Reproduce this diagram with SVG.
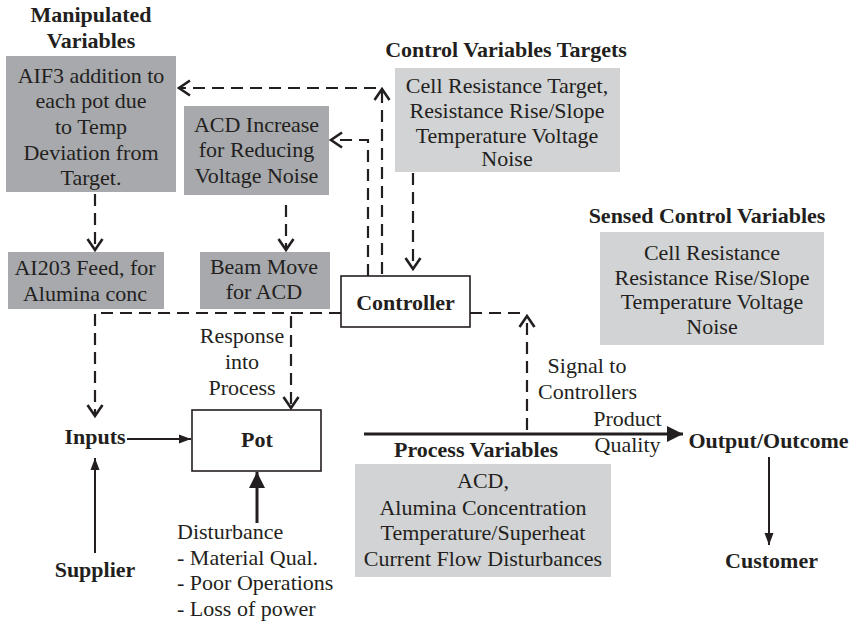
<svg xmlns="http://www.w3.org/2000/svg" width="855" height="624" viewBox="0 0 855 624">
<style>
text{font-family:"Liberation Serif","Times New Roman",serif;font-size:22px;fill:#231f20}
.b{font-weight:bold}
.c{text-anchor:middle}
.dark{fill:#a7a9ac}
.light{fill:#d1d3d4}
.box{fill:#fff;stroke:#231f20;stroke-width:1.6}
.d{fill:none;stroke:#231f20;stroke-width:2.2;stroke-dasharray:12 7}
.s{fill:none;stroke:#231f20;stroke-width:2}
.t{fill:none;stroke:#231f20;stroke-width:3}
</style>
<defs>
<marker id="chev" markerUnits="userSpaceOnUse" markerWidth="30" markerHeight="30" refX="0" refY="0" viewBox="-15 -15 30 30" orient="auto" overflow="visible">
<path d="M-11,-7.5 L0,0 L-11,7.5" fill="none" stroke="#231f20" stroke-width="2.6"/>
</marker>
<marker id="tri" markerUnits="userSpaceOnUse" markerWidth="30" markerHeight="30" refX="0" refY="0" viewBox="-15 -15 30 30" orient="auto" overflow="visible">
<path d="M-12,-4.5 L0,0 L-12,4.5 Z" fill="#231f20"/>
</marker>
<marker id="bigtri" markerUnits="userSpaceOnUse" markerWidth="40" markerHeight="40" refX="0" refY="0" viewBox="-20 -20 40 40" orient="auto" overflow="visible">
<path d="M-16,-8 L0,0 L-16,8 Z" fill="#231f20"/>
</marker>
</defs>

<g id="manipulated-title">
<text class="b c" x="91" y="22">Manipulated</text>
<text class="b c" x="91" y="48">Variables</text>
</g>
<g id="aif3">
<rect class="dark" x="6" y="56" width="170" height="136"/>
<text class="c" x="91" y="83">AIF3 addition to</text>
<text class="c" x="91" y="108">each pot due</text>
<text class="c" x="91" y="134">to Temp</text>
<text class="c" x="91" y="160">Deviation from</text>
<text class="c" x="91" y="185">Target.</text>
</g>
<g id="acd-increase">
<rect class="dark" x="184" y="106" width="145" height="89"/>
<text class="c" x="256.5" y="132">ACD Increase</text>
<text class="c" x="256.5" y="157">for Reducing</text>
<text class="c" x="256.5" y="183">Voltage Noise</text>
</g>
<g id="ai203">
<rect class="dark" x="8" y="252" width="156" height="57"/>
<text class="c" x="85" y="275">AI203 Feed, for</text>
<text class="c" x="85" y="301">Alumina conc</text>
</g>
<g id="beam-move">
<rect class="dark" x="200" y="252" width="130" height="57"/>
<text class="c" x="264" y="274">Beam Move</text>
<text class="c" x="264" y="299">for ACD</text>
</g>
<g id="control-targets">
<text class="b c" x="506" y="57">Control Variables Targets</text>
<rect class="light" x="395" y="68" width="225" height="104"/>
<text class="c" x="507" y="93">Cell Resistance Target,</text>
<text class="c" x="507" y="118">Resistance Rise/Slope</text>
<text class="c" x="507" y="143">Temperature Voltage</text>
<text class="c" x="507" y="166">Noise</text>
</g>
<g id="sensed">
<text class="b c" x="707" y="223">Sensed Control Variables</text>
<rect class="light" x="600" y="232" width="224" height="113"/>
<text class="c" x="712" y="260">Cell Resistance</text>
<text class="c" x="712" y="285">Resistance Rise/Slope</text>
<text class="c" x="712" y="309">Temperature Voltage</text>
<text class="c" x="712" y="334">Noise</text>
</g>
<g id="controller">
<rect class="box" x="341" y="276" width="129" height="51"/>
<text class="b c" x="405.5" y="310">Controller</text>
</g>
<g id="pot">
<rect class="box" x="192" y="410" width="129" height="61"/>
<text class="b c" x="257" y="447">Pot</text>
</g>
<g id="inputs"><text class="b c" x="95" y="444">Inputs</text></g>
<g id="supplier"><text class="b c" x="95" y="577">Supplier</text></g>
<g id="disturbance">
<text x="177" y="539">Disturbance</text>
<text x="177" y="565">- Material Qual.</text>
<text x="177" y="590">- Poor Operations</text>
<text x="177" y="616">- Loss of power</text>
</g>
<g id="process-variables">
<text class="b c" x="476" y="457">Process Variables</text>
<rect class="light" x="355" y="464" width="256" height="113"/>
<text class="c" x="483" y="488">ACD,</text>
<text class="c" x="483" y="515">Alumina Concentration</text>
<text class="c" x="483" y="540">Temperature/Superheat</text>
<text class="c" x="483" y="566">Current Flow Disturbances</text>
</g>
<g id="output"><text class="b c" x="768.5" y="448">Output/Outcome</text></g>
<g id="customer"><text class="b c" x="771.5" y="568">Customer</text></g>

<g id="connectors">
<path class="d" d="M95,194 V250" marker-end="url(#chev)"/>
<path class="d" d="M286,205 V250" marker-end="url(#chev)"/>
<path class="d" d="M382,274 V89" marker-end="url(#chev)"/>
<path class="d" d="M376,88 H179" marker-end="url(#chev)"/>
<path class="d" d="M368,276 V140 H331" marker-end="url(#chev)"/>
<path class="d" d="M413,173 V269" marker-end="url(#chev)"/>
<path class="d" d="M341,313 H95 V416" marker-end="url(#chev)"/>
<path class="d" d="M291,316 V408" marker-end="url(#chev)"/>
<path class="d" d="M470,313 H527"/>
<path class="d" d="M527,430 V316" marker-end="url(#chev)"/>
<path class="s" d="M127,439 H191" marker-end="url(#tri)"/>
<path class="s" d="M95,553 V458" marker-end="url(#tri)"/>
<path class="t" d="M257,523 V472" marker-end="url(#bigtri)"/>
<path class="t" d="M364,434 H683" marker-end="url(#bigtri)"/>
<path class="s" d="M769,457 V545" marker-end="url(#tri)"/>
<g id="labels">
<text class="c" x="242" y="343">Response</text>
<text class="c" x="242" y="369">into</text>
<text class="c" x="242" y="395">Process</text>
<text class="c" x="587" y="373">Signal to</text>
<text class="c" x="587.5" y="399">Controllers</text>
<text class="c" x="627.5" y="426">Product</text>
<text class="c" x="627.5" y="452">Quality</text>
</g>
</g>
</svg>
